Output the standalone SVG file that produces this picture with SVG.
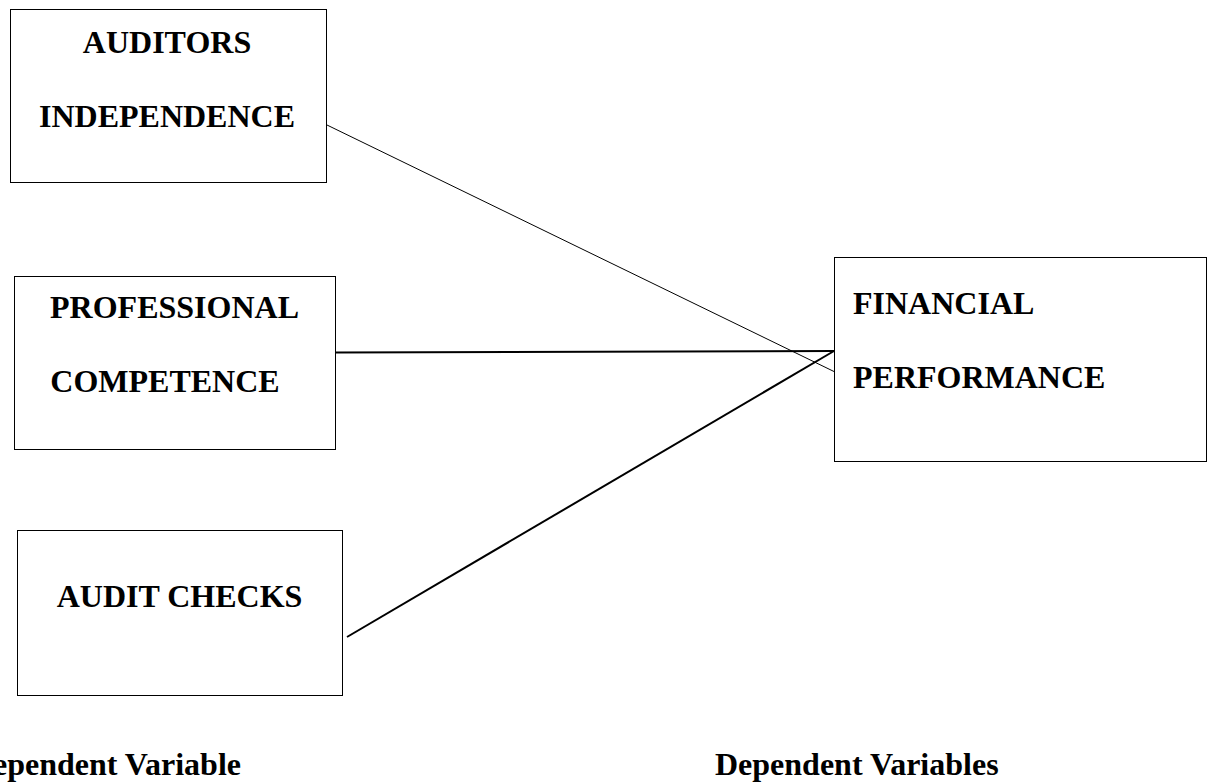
<svg xmlns="http://www.w3.org/2000/svg" width="1211" height="783" viewBox="0 0 1211 783">
<style>
.box{fill:#fff;stroke:#000;stroke-width:1}
.t{font-family:"Liberation Serif","Times New Roman",serif;font-weight:bold;font-size:32px;fill:#000}
.c{text-anchor:middle}
.ln{stroke:#000;fill:none}
</style>
<rect width="1211" height="783" fill="#fff"/>
<g id="auditors-independence">
<rect class="box" x="10.5" y="9.5" width="316" height="173"/>
<text class="t c" x="167" y="53">AUDITORS</text>
<text class="t c" x="167" y="127">INDEPENDENCE</text>
</g>
<g id="professional-competence">
<rect class="box" x="14.5" y="276.5" width="321" height="173"/>
<text class="t c" x="174.5" y="318">PROFESSIONAL</text>
<text class="t c" x="165" y="392">COMPETENCE</text>
</g>
<g id="audit-checks">
<rect class="box" x="17.5" y="530.5" width="325" height="165"/>
<text class="t c" x="179.5" y="607">AUDIT CHECKS</text>
</g>
<g id="financial-performance">
<rect class="box" x="834.5" y="257.5" width="372" height="204"/>
<text class="t" x="853" y="314">FINANCIAL</text>
<text class="t" x="853" y="388">PERFORMANCE</text>
</g>
<g id="connectors">
<line class="ln" x1="327" y1="125" x2="835" y2="372" stroke-width="1"/>
<line class="ln" x1="336" y1="352.5" x2="834" y2="351" stroke-width="2"/>
<line class="ln" x1="347" y1="637" x2="834" y2="351" stroke-width="2"/>
</g>
<g id="labels">
<text class="t" x="241" y="775" text-anchor="end">Independent Variable</text>
<text class="t" x="715" y="775">Dependent Variables</text>
</g>
</svg>
